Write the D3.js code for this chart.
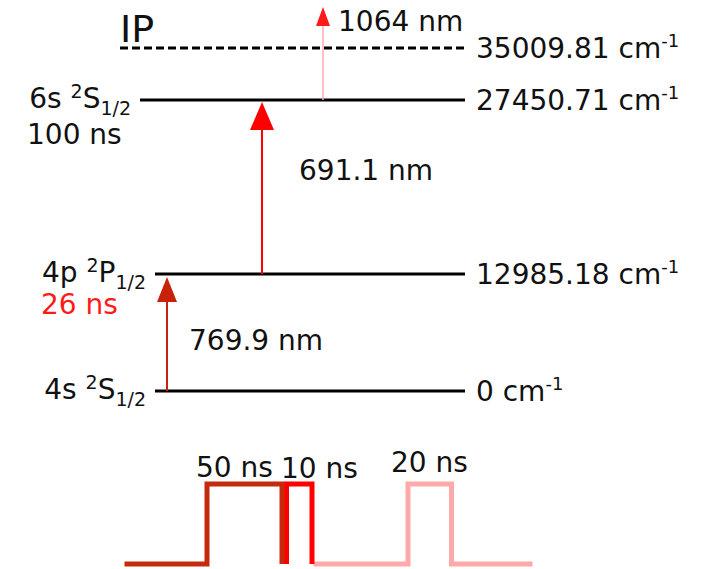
<!DOCTYPE html>
<html>
<head>
<meta charset="utf-8">
<script src="https://cdn.jsdelivr.net/npm/d3@7"></script>
<style>
  body { margin: 0; background: #fff; }
  svg text { font-family: "DejaVu Sans", Verdana, sans-serif; fill: #111; }
</style>
</head>
<body>
<div id="chart"></div>
<script>
// energy levels (cm-1)
var levelIds = ["4s", "4p", "6s", "IP"];
var levelEnergy = [0, 12985.18, 27450.71, 35009.81];
var levelOrbital = ["4s", "4p", "6s", ""];
var levelTerm = ["S", "P", "S", ""];
var levelLifetime = ["", "26 ns", "100 ns", ""];
var energyLabels = ["0", "12985.18", "27450.71", "35009.81"];

// laser steps
var stepFrom = [0, 1, 2];
var stepTo = [1, 2, 3];
var stepLabels = ["769.9 nm", "691.1 nm", "1064 nm"];

// pulse timing (schematic ns)
var pulseLabels = ["50 ns", "10 ns", "20 ns"];
var pulseStart = [-55, 53, 71];
var pulseRise = [0, 53, 134];
var pulseFall = [50, 70, 163];
var pulseEnd = [50, 70, 217];

var W = 702, H = 569;
var FS = 28;
var svg = d3.select("#chart").append("svg").attr("width", W).attr("height", H);

// schematic (piecewise) energy axis
var y = d3.scaleLinear().domain(levelEnergy).range([391, 274, 100, 48]);
var lineStart = [155, 155, 140, 120];
var lineEnd = 465;

var levels = levelIds.map(function(id, i) {
  return {id: id, e: levelEnergy[i], orb: levelOrbital[i], term: levelTerm[i],
          life: levelLifetime[i], label: energyLabels[i], x0: lineStart[i]};
});

svg.selectAll("line.level").data(levels).enter().append("line")
  .attr("class", "level")
  .attr("x1", function(d) { return d.x0; })
  .attr("x2", lineEnd)
  .attr("y1", function(d) { return y(d.e); })
  .attr("y2", function(d) { return y(d.e); })
  .attr("stroke", "#000")
  .attr("stroke-width", 3)
  .attr("stroke-dasharray", function(d) { return d.id == "IP" ? "8,4" : null; });

// right energy labels
var eLab = svg.selectAll("text.energy").data(levels).enter().append("text")
  .attr("class", "energy")
  .attr("x", 476)
  .attr("y", function(d) { return y(d.e) + 10; })
  .attr("font-size", FS);
eLab.append("tspan").text(function(d) { return d.label + " cm"; });
eLab.append("tspan").attr("dy", -11).attr("font-size", 18).text("-1");

// left state labels
var named = levels.filter(function(d) { return d.orb; });
var sLab = svg.selectAll("text.state").data(named).enter().append("text")
  .attr("class", "state")
  .attr("x", function(d) { return d.x0 - 9; })
  .attr("y", function(d) { return y(d.e) + 8; })
  .attr("text-anchor", "end")
  .attr("font-size", FS);
sLab.append("tspan").text(function(d) { return d.orb + " "; });
sLab.append("tspan").attr("dy", -10).attr("font-size", 19).text("2");
sLab.append("tspan").attr("dy", 10).text(function(d) { return d.term; });
sLab.append("tspan").attr("dy", 7).attr("font-size", 19).text("1/2");

svg.selectAll("text.life").data(named.filter(function(d) { return d.life; })).enter().append("text")
  .attr("class", "life")
  .attr("x", function(d) { return d.id == "4p" ? 41 : 27; })
  .attr("y", function(d) { return y(d.e) + (d.id == "4p" ? 40 : 44); })
  .attr("font-size", FS)
  .style("fill", function(d) { return d.id == "4p" ? "#ff1a1a" : "#111"; })
  .text(function(d) { return d.life; });

svg.append("text").attr("x", 120).attr("y", 42).attr("font-size", 38).text("IP");

// transition arrows
var arrowX = [167, 262, 323];
var shaftCol = ["#c8220a", "#ff0000", "#ffaaaa"];
var headCol = ["#c8220a", "#ff0000", "#ff1a1a"];
var shaftW = [2, 2, 1.5];
var headW = [20, 24, 14];
var headH = [25, 28, 19];
var tipGap = [3, 2, 0];
var labelPos = [[189, 350], [299, 180], [338, 31]];

var steps = stepLabels.map(function(l, i) {
  var top = i == 2 ? y(levelEnergy[stepTo[i]]) - 41 : y(levelEnergy[stepTo[i]]) + tipGap[i];
  return {label: l, x: arrowX[i], y0: y(levelEnergy[stepFrom[i]]), y1: top, i: i};
});

var g = svg.selectAll("g.step").data(steps).enter().append("g").attr("class", "step");
g.append("line")
  .attr("x1", function(d) { return d.x; }).attr("x2", function(d) { return d.x; })
  .attr("y1", function(d) { return d.y0; })
  .attr("y2", function(d) { return d.y1 + headH[d.i] - 2; })
  .attr("stroke", function(d) { return shaftCol[d.i]; })
  .attr("stroke-width", function(d) { return shaftW[d.i]; });
g.append("path")
  .attr("d", function(d) {
    var w = headW[d.i] / 2, h = headH[d.i];
    return "M" + d.x + "," + d.y1 + "L" + (d.x + w) + "," + (d.y1 + h) +
      "L" + (d.x - w) + "," + (d.y1 + h) + "Z";
  })
  .attr("fill", function(d) { return headCol[d.i]; });
g.append("text")
  .attr("x", function(d) { return labelPos[d.i][0]; })
  .attr("y", function(d) { return labelPos[d.i][1]; })
  .attr("font-size", FS)
  .text(function(d) { return d.label; });

// laser pulse timing
var t = d3.scaleLinear().domain([0, 50]).range([207, 282]);
var amp = d3.scaleLinear().domain([0, 1]).range([564, 484]);
var pulseCol = ["#c62a0c", "#ff0000", "#ffaaaa"];
var pulseLabX = [196, 281, 391];
var pulseLabY = [477, 478, 472];

var line = d3.line().x(function(p) { return t(p[0]); }).y(function(p) { return amp(p[1]); });
var pulses = pulseLabels.map(function(l, i) {
  return {label: l, i: i, pts: [[pulseStart[i], 0], [pulseRise[i], 0], [pulseRise[i], 1],
          [pulseFall[i], 1], [pulseFall[i], 0], [pulseEnd[i], 0]]};
});

svg.selectAll("path.pulse").data(pulses.slice().reverse()).enter().append("path")
  .attr("class", "pulse")
  .attr("d", function(d) { return line(d.pts); })
  .attr("fill", "none")
  .attr("stroke", function(d) { return pulseCol[d.i]; })
  .attr("stroke-width", 5)
  .attr("stroke-linejoin", "miter");

svg.selectAll("text.pulse").data(pulses).enter().append("text")
  .attr("class", "pulse")
  .attr("x", function(d) { return pulseLabX[d.i]; })
  .attr("y", function(d) { return pulseLabY[d.i]; })
  .attr("font-size", FS)
  .text(function(d) { return d.label; });
</script>
</body>
</html>
